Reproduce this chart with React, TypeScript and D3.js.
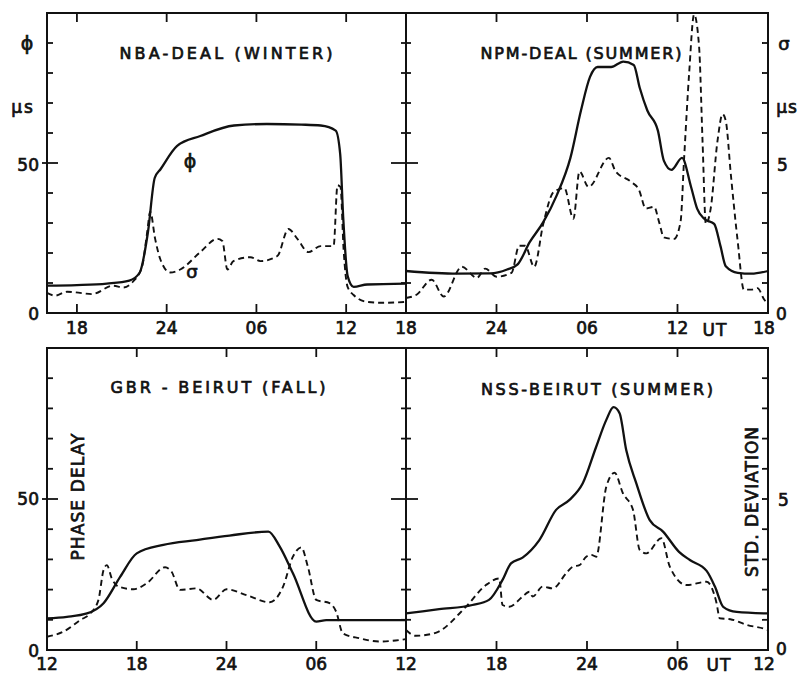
import React from "react";
import * as d3 from "d3";

// hours are counted from 00 UT of the first day, so 30 = 06 UT next day
const nbaHours = [16, 18, 20, 21.5, 22.2, 22.75, 23.2, 23.6, 24.7, 26.25, 28.5, 30.7, 33, 34.3, 35.3, 35.6, 35.8, 36.1, 36.5, 37.4, 40];
const nbaPhase = [9.1, 9.3, 9.8, 10.8, 13.5, 27, 45, 48, 55.7, 59, 62.5, 63, 62.8, 62.5, 60.8, 53, 32, 12.3, 8.7, 9.5, 9.8];
const nbaSigmaHours = [16, 16.54, 17.34, 18.21, 19.01, 20.42, 21.09, 21.76, 22.36, 22.7, 22.9, 23.23, 23.57, 24.24, 24.91, 26.25, 27.39, 27.72, 28.06, 28.46, 29.6, 30.27, 31.4, 32.14, 32.74, 33.48, 34.29, 35.16, 35.42, 35.62, 35.83, 36.09, 36.5, 37.43, 38.5, 40];
const nbaSigma = [0.67, 0.58, 0.71, 0.67, 0.63, 0.91, 0.85, 1.05, 1.56, 2.7, 3.38, 2.47, 1.8, 1.35, 1.45, 2.03, 2.47, 2.4, 1.45, 1.73, 1.86, 1.73, 1.9, 2.8, 2.47, 2.03, 2.23, 2.23, 4.26, 4.2, 2.1, 0.88, 0.6, 0.37, 0.34, 0.37];

const npmHours = [18, 21.4, 23.6, 24.7, 25.4, 26.2, 27.1, 28, 28.9, 29.6, 30.2, 30.7, 31.6, 32.4, 33.1, 33.5, 34, 34.7, 35.1, 35.6, 36.3, 36.9, 37.3, 37.77, 38.43, 38.85, 39.2, 40, 40.9, 42];
const npmPhase = [14, 13.1, 13.2, 14.5, 16.2, 23.6, 30.3, 39.3, 51.7, 67.5, 78.7, 82, 82, 83.8, 82.7, 75, 67.5, 60.8, 50.7, 47.7, 51.7, 42, 34.8, 31.4, 29.7, 22.3, 15.6, 13.4, 13.1, 14];
const npmSigmaHours = [18, 18.7, 19.7, 20.5, 21.7, 22.7, 23.25, 24, 25, 25.5, 25.9, 26.5, 27.1, 27.8, 28.5, 29.1, 29.5, 30.1, 31.45, 31.9, 32.9, 33.45, 33.9, 34.45, 34.78, 35.1, 35.77, 36.2, 36.44, 36.77, 37.1, 37.43, 37.66, 37.88, 38.2, 38.65, 38.99, 39.2, 39.54, 40, 40.4, 40.9, 41.3, 41.76, 42];
const npmSigma = [0.5, 0.61, 1.11, 0.55, 1.54, 1.17, 1.48, 1.21, 1.34, 2.24, 2.24, 1.54, 2.97, 4.04, 4.16, 3.14, 4.72, 4.2, 5.17, 4.72, 4.38, 4.1, 3.48, 3.54, 3.03, 2.52, 2.47, 3.03, 5.17, 7.98, 9.95, 8.89, 5.73, 2.97, 3.48, 5.73, 6.63, 6.41, 4.6, 2.35, 0.78, 0.78, 0.83, 0.44, 0.3];

const gbrHours = [12, 13.33, 14.67, 15.78, 16.9, 18, 19.78, 22, 24.2, 26.8, 27.56, 28.44, 30, 30.67, 36];
const gbrPhase = [10.5, 11, 12.1, 15.5, 24.3, 32, 34.8, 36.4, 37.9, 39.2, 34.2, 25.4, 9.4, 9.9, 9.9];
const gbrSigmaHours = [12, 13.11, 14.22, 14.89, 15.44, 15.78, 16, 16.33, 16.78, 17.78, 18.67, 19.89, 20.33, 20.89, 22, 23.11, 24, 25.33, 26.89, 27.78, 28.44, 29, 29.44, 30, 30.89, 31.33, 31.78, 32.89, 34.22, 36];
const gbrSigma = [0.44, 0.61, 0.99, 1.21, 1.66, 2.65, 2.81, 2.37, 2.1, 2.01, 2.21, 2.74, 2.59, 1.99, 2.04, 1.66, 2.01, 1.82, 1.58, 2.1, 3.09, 3.4, 2.76, 1.66, 1.55, 1.27, 0.55, 0.39, 0.28, 0.36];

const nssHours = [12, 14.2, 16.4, 17.5, 18.4, 18.96, 19.73, 20.84, 21.95, 22.84, 23.72, 24.61, 25.28, 25.76, 26.16, 26.6, 27.27, 28.16, 29.04, 30.1, 30.82, 31.93, 32.48, 33.03, 33.92, 36];
const nssPhase = [12.1, 13.5, 14.9, 16.6, 23.2, 28.7, 30.6, 36.4, 46.4, 49.7, 55.2, 67.3, 76.2, 80.4, 78.4, 66.2, 55.2, 43, 39.2, 32.5, 29.8, 26.2, 21, 14.3, 12.6, 12.1];
const nssSigmaHours = [12, 12.64, 13.97, 15.97, 17.3, 18.18, 18.4, 18.85, 19.73, 20.18, 20.4, 21.06, 21.73, 22.62, 23.06, 23.5, 23.95, 24.28, 24.61, 25.28, 25.83, 26.38, 27.05, 27.5, 27.94, 28.93, 29.49, 30.6, 31.93, 32.59, 32.8, 33.5, 34.6, 35.9, 36];
const nssSigma = [0.66, 0.47, 0.57, 1.43, 2.15, 2.37, 1.49, 1.43, 1.77, 1.93, 1.77, 2.1, 2.04, 2.54, 2.76, 2.81, 3.09, 3.15, 3.09, 5.41, 5.87, 5.19, 4.64, 3.31, 3.2, 3.7, 2.76, 2.15, 2.26, 1.55, 1.05, 1.02, 0.83, 0.68, 0.66];

const phaseTicks = [10, 20, 30, 40, 50, 60, 70, 80, 90];

const FONT = "'DejaVu Sans', sans-serif";
const COLS = [
  { x0: 47, x1: 406 },
  { x0: 406, x1: 768 },
];
const ROWS = [
  { y0: 13, y1: 313, labelY: 334 },
  { y0: 348, y1: 650, labelY: 670 },
];

const panels = [
  { title: "NBA-DEAL (WINTER)", titleX: 226, titleY: 59, titleLen: 213, start: 16, col: 0, row: 0, hours: nbaHours, phase: nbaPhase, sHours: nbaSigmaHours, sigma: nbaSigma },
  { title: "NPM-DEAL (SUMMER)", titleX: 581, titleY: 59, titleLen: 201, start: 18, col: 1, row: 0, hours: npmHours, phase: npmPhase, sHours: npmSigmaHours, sigma: npmSigma },
  { title: "GBR - BEIRUT (FALL)", titleX: 218, titleY: 393, titleLen: 215, start: 12, col: 0, row: 1, hours: gbrHours, phase: gbrPhase, sHours: gbrSigmaHours, sigma: gbrSigma },
  { title: "NSS-BEIRUT (SUMMER)", titleX: 597, titleY: 395, titleLen: 232, start: 12, col: 1, row: 1, hours: nssHours, phase: nssPhase, sHours: nssSigmaHours, sigma: nssSigma },
];

const fmtHour = (t) => {
  const h = t % 24;
  return h === 0 ? "24" : d3.format("02d")(h);
};

const txt = { fontFamily: FONT, fill: "#111", stroke: "#111", strokeWidth: 0.7 };

function Panel({ p }) {
  const { x0, x1 } = COLS[p.col];
  const { y0, y1, labelY } = ROWS[p.row];
  const end = p.start + 24;
  const x = d3.scaleLinear().domain([p.start, end]).range([x0, x1]);
  const y = d3.scaleLinear().domain([0, 100]).range([y1, y0]);
  const ys = d3.scaleLinear().domain([0, 10]).range([y1, y0]);

  const solid = d3
    .line()
    .x((d) => x(d[0]))
    .y((d) => y(d[1]))
    .curve(d3.curveMonotoneX)(d3.zip(p.hours, p.phase));
  const dashed = d3
    .line()
    .x((d) => x(d[0]))
    .y((d) => ys(d[1]))
    .curve(d3.curveMonotoneX)(d3.zip(p.sHours, p.sigma));

  const first = Math.ceil(p.start / 6) * 6;
  const inner = d3.range(first, end, 6).filter((t) => t > p.start);
  // left column panels leave their right-edge label to the right panel
  const labelled = d3.range(first, end + (p.col === 1 ? 1 : 0), 6);

  return (
    <g>
      <path d={dashed} fill="none" stroke="#111" strokeWidth={1.9} strokeDasharray="6,4" />
      <path d={solid} fill="none" stroke="#111" strokeWidth={2.3} />
      <rect x={x0} y={y0} width={x1 - x0} height={y1 - y0} fill="none" stroke="#111" strokeWidth={2} />
      {inner.map((t) => (
        <g key={t}>
          <line x1={x(t)} x2={x(t)} y1={y0} y2={y0 + 9} stroke="#111" strokeWidth={1.8} />
          <line x1={x(t)} x2={x(t)} y1={y1} y2={y1 - 9} stroke="#111" strokeWidth={1.8} />
        </g>
      ))}
      {phaseTicks.map((v) =>
        p.col === 0 ? (
          <line key={v} x1={v === 50 ? x0 - 5 : x0} x2={x0 + (v === 50 ? 11 : 6)} y1={y(v)} y2={y(v)} stroke="#111" strokeWidth={1.8} />
        ) : (
          <g key={v}>
            <line x1={x0 - (v === 50 ? 15 : 5)} x2={x0 + (v === 50 ? 12 : 5)} y1={y(v)} y2={y(v)} stroke="#111" strokeWidth={1.8} />
            <line x1={x1 - 6} x2={x1} y1={y(v)} y2={y(v)} stroke="#111" strokeWidth={1.8} />
          </g>
        )
      )}
      {labelled.map((t) => (
        <text key={t} x={x(t) - (t === end ? 4 : 0)} y={labelY} textAnchor="middle" fontSize={17} {...txt}>
          {fmtHour(t)}
        </text>
      ))}
      <text x={p.titleX} y={p.titleY} textAnchor="middle" fontSize={16} textLength={p.titleLen} lengthAdjust="spacing" {...txt}>
        {p.title}
      </text>
    </g>
  );
}

export default function App() {
  return (
    <svg width={798} height={675} style={{ position: "absolute", left: 0, top: 0, background: "#fff" }}>
      <rect width={798} height={675} fill="#fff" />
      {panels.map((p) => (
        <Panel key={p.title} p={p} />
      ))}
      {/* left axis labels */}
      <text x={27} y={43} textAnchor="middle" dominantBaseline="central" fontSize={19} {...txt}>ϕ</text>
      <text x={23} y={107} textAnchor="middle" dominantBaseline="central" fontSize={17} letterSpacing={2} {...txt}>μs</text>
      <text x={39} y={165} textAnchor="end" dominantBaseline="central" fontSize={17} {...txt}>50</text>
      <text x={39} y={314} textAnchor="end" dominantBaseline="central" fontSize={17} {...txt}>0</text>
      <text x={39} y={499} textAnchor="end" dominantBaseline="central" fontSize={17} {...txt}>50</text>
      <text x={39} y={651} textAnchor="end" dominantBaseline="central" fontSize={17} {...txt}>0</text>
      {/* right axis labels */}
      <text x={784} y={43} textAnchor="middle" dominantBaseline="central" fontSize={18} {...txt}>σ</text>
      <text x={787} y={107} textAnchor="middle" dominantBaseline="central" fontSize={17} letterSpacing={1} {...txt}>μs</text>
      <text x={777} y={165} dominantBaseline="central" fontSize={17} {...txt}>5</text>
      <text x={776} y={314} dominantBaseline="central" fontSize={17} {...txt}>0</text>
      <text x={778} y={500} dominantBaseline="central" fontSize={17} {...txt}>5</text>
      <text x={776} y={649} dominantBaseline="central" fontSize={17} {...txt}>0</text>
      <text x={715} y={336} textAnchor="middle" fontSize={17} letterSpacing={1} {...txt}>UT</text>
      <text x={719} y={671} textAnchor="middle" fontSize={17} letterSpacing={1} {...txt}>UT</text>
      {/* curve labels in the first panel */}
      <text x={190} y={161} textAnchor="middle" dominantBaseline="central" fontSize={19} {...txt}>ϕ</text>
      <text x={192} y={271} textAnchor="middle" dominantBaseline="central" fontSize={18} {...txt}>σ</text>
      {/* vertical axis titles */}
      <text transform="translate(78,497) rotate(-90)" textAnchor="middle" dominantBaseline="central" fontSize={17} textLength={127} lengthAdjust="spacing" {...txt}>
        PHASE DELAY
      </text>
      <text transform="translate(752,502) rotate(-90)" textAnchor="middle" dominantBaseline="central" fontSize={17} textLength={150} lengthAdjust="spacing" {...txt}>
        STD. DEVIATION
      </text>
    </svg>
  );
}
